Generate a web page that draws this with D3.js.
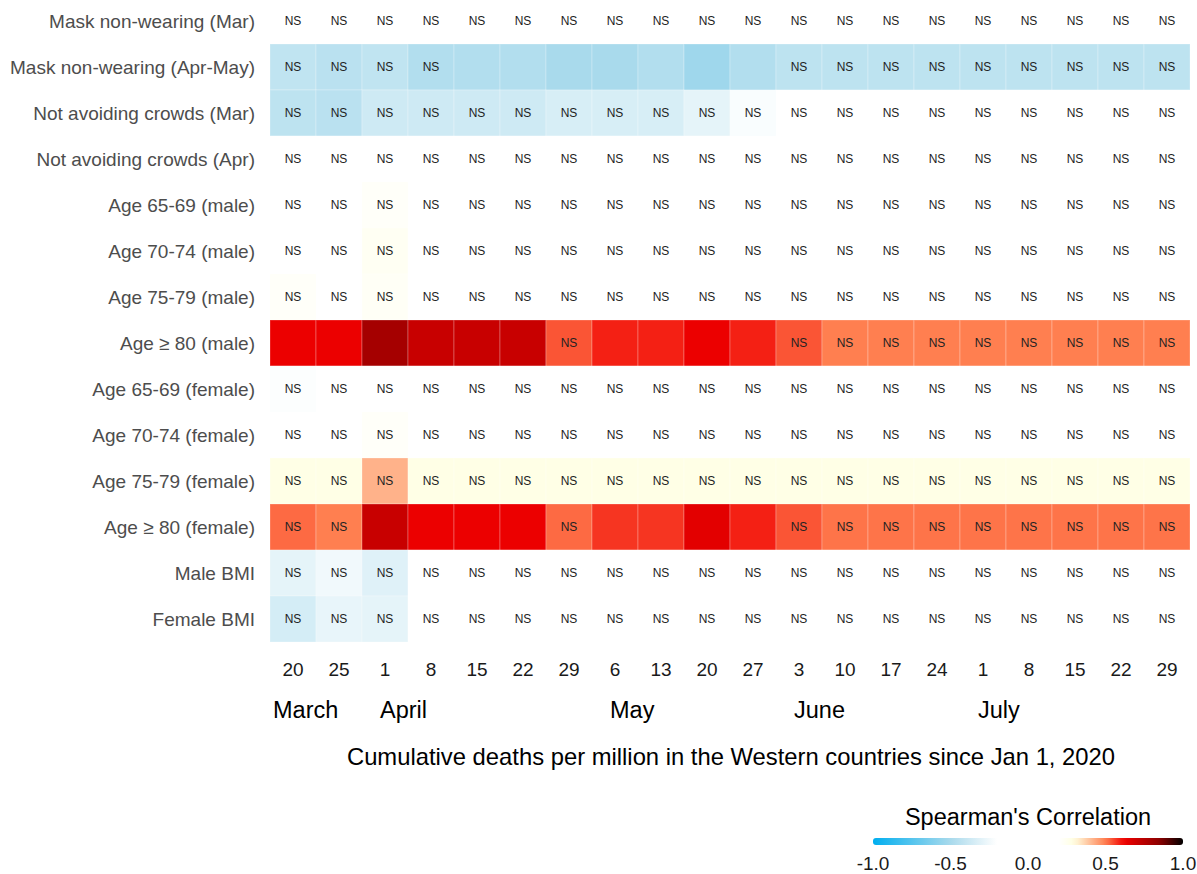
<!DOCTYPE html>
<html>
<head>
<meta charset="utf-8">
<script src="https://cdn.jsdelivr.net/npm/d3@7"></script>
<style>
  body { margin: 0; background: #fff; }
  text { font-family: "Liberation Sans", Arial, sans-serif; }
</style>
</head>
<body>
<svg></svg>
<script>
// строки (показатели)
const rows = [
  "Mask non-wearing (Mar)", "Mask non-wearing (Apr-May)", "Not avoiding crowds (Mar)",
  "Not avoiding crowds (Apr)", "Age 65-69 (male)", "Age 70-74 (male)", "Age 75-79 (male)",
  "Age \u2265 80 (male)", "Age 65-69 (female)", "Age 70-74 (female)", "Age 75-79 (female)",
  "Age \u2265 80 (female)", "Male BMI", "Female BMI"
];
// даты (подписи столбцов)
const dates = ["20", "25", "1", "8", "15", "22", "29", "6", "13", "20", "27",
               "3", "10", "17", "24", "1", "8", "15", "22", "29"];
// месяцы: подпись и номер первого столбца
const months = [["March", 0], ["April", 2], ["May", 7], ["June", 11], ["July", 15]];

// коэффициенты корреляции Спирмена (оценка по картинке)
const corr = [
  [0,0,0,0,0,0,0,0,0,0,0,0,0,0,0,0,0,0,0,0],
  [-0.42,-0.44,-0.42,-0.47,-0.47,-0.47,-0.5,-0.5,-0.47,-0.53,-0.47,-0.43,-0.43,-0.43,-0.43,-0.43,-0.43,-0.43,-0.43,-0.43],
  [-0.43,-0.44,-0.37,-0.37,-0.37,-0.37,-0.34,-0.34,-0.34,-0.29,-0.22,0,0,0,0,0,0,0,0,0],
  [0,0,0,0,0,0,0,0,0,0,0,0,0,0,0,0,0,0,0,0],
  [0,0,0.22,0,0,0,0,0,0,0,0,0,0,0,0,0,0,0,0,0],
  [0,0,0.24,0,0,0,0,0,0,0,0,0,0,0,0,0,0,0,0,0],
  [0.22,0,0.23,0,0,0,0,0,0,0,0,0,0,0,0,0,0,0,0,0],
  [0.63,0.63,0.79,0.71,0.71,0.71,0.54,0.59,0.59,0.63,0.59,0.54,0.5,0.5,0.5,0.5,0.5,0.5,0.5,0.5],
  [-0.21,0,0,0,0,0,0,0,0,0,0,0,0,0,0,0,0,0,0,0],
  [0,0,0.22,0,0,0,0,0,0,0,0,0,0,0,0,0,0,0,0,0],
  [0.28,0.28,0.42,0.28,0.28,0.28,0.28,0.28,0.28,0.28,0.28,0.28,0.28,0.28,0.28,0.28,0.28,0.28,0.28,0.28],
  [0.52,0.5,0.71,0.63,0.63,0.63,0.52,0.57,0.57,0.65,0.59,0.54,0.51,0.51,0.51,0.51,0.51,0.51,0.51,0.51],
  [-0.29,-0.25,-0.31,0,0,0,0,0,0,0,0,0,0,0,0,0,0,0,0,0],
  [-0.35,-0.28,-0.29,0,0,0,0,0,0,0,0,0,0,0,0,0,0,0,0,0]
];
// значимые ячейки (без подписи "NS"): номер строки -> столбцы
const significant = [
  [1, [4,5,6,7,8,9,10]],
  [7, [0,1,2,3,4,5,7,8,9,10]],
  [11, [2,3,4,5,7,8,9,10]]
];
const legendTicks = [-1, -0.5, 0, 0.5, 1];

const W = 1197, H = 874;
const svg = d3.select("svg").attr("width", W).attr("height", H);

const x = d3.scaleBand().domain(d3.range(dates.length)).range([270, 1190]);
const y = d3.scaleBand().domain(d3.range(rows.length)).range([-2, 642]);

const color = d3.scaleLinear()
  .domain([-1, -0.5, -0.2, 0.2, 0.3, 0.5, 0.62, 0.85, 1])
  .range(["#00AEEF", "#A9DAEC", "#ffffff", "#ffffff", "#FFFFE0", "#FF7F50", "#F00000", "#8B0000", "#000000"])
  .clamp(true);

const sigMap = new Map(significant);
const cells = [];
corr.forEach((r, i) => r.forEach((v, j) => cells.push({i, j, v, ns: !(sigMap.get(i) || []).includes(j)})));

// ячейки
svg.append("g").selectAll("rect").data(cells).join("rect")
  .attr("x", d => x(d.j)).attr("y", d => y(d.i))
  .attr("width", x.bandwidth()).attr("height", y.bandwidth())
  .attr("fill", d => color(d.v))
  .attr("stroke", "#ffffff").attr("stroke-opacity", 0.25).attr("stroke-width", 1);

// подписи NS
svg.append("g").selectAll("text").data(cells.filter(d => d.ns)).join("text")
  .attr("x", d => x(d.j) + x.bandwidth() / 2)
  .attr("y", d => y(d.i) + y.bandwidth() / 2 + 4)
  .attr("text-anchor", "middle").attr("font-size", 12).attr("fill", "#222")
  .text("NS");

// подписи строк
svg.append("g").selectAll("text").data(rows).join("text")
  .attr("x", 255).attr("y", (d, i) => y(i) + y.bandwidth() / 2 + 6.5)
  .attr("text-anchor", "end").attr("font-size", 19).attr("fill", "#4d4d4d")
  .text(d => d);

// подписи дат
svg.append("g").selectAll("text").data(dates).join("text")
  .attr("x", (d, i) => x(i) + x.bandwidth() / 2).attr("y", 676)
  .attr("text-anchor", "middle").attr("font-size", 19).attr("fill", "#1a1a1a")
  .text(d => d);

// месяцы
svg.append("g").selectAll("text").data(months).join("text")
  .attr("x", d => d[1] === 0 ? x(d[1]) + 3 : x(d[1]) + x.bandwidth() / 2 - 5)
  .attr("y", 718)
  .attr("font-size", 23.5).attr("fill", "#000")
  .text(d => d[0]);

svg.append("text")
  .attr("x", 731).attr("y", 765).attr("text-anchor", "middle")
  .attr("font-size", 23.8).attr("fill", "#000")
  .text("Cumulative deaths per million in the Western countries since Jan 1, 2020");

// легенда
const lx = d3.scaleLinear().domain([-1, 1]).range([873, 1183]);
const grad = svg.append("defs").append("linearGradient").attr("id", "lg");
d3.range(0, 1.0001, 0.02).forEach(t => {
  grad.append("stop").attr("offset", t).attr("stop-color", color(-1 + 2 * t));
});
svg.append("rect").attr("x", lx(-1)).attr("y", 838).attr("width", lx(1) - lx(-1)).attr("height", 7)
  .attr("rx", 3).attr("fill", "url(#lg)");
svg.append("text").attr("x", 1028).attr("y", 825).attr("text-anchor", "middle")
  .attr("font-size", 23.5).attr("fill", "#000").text("Spearman's Correlation");
svg.append("g").selectAll("text").data(legendTicks).join("text")
  .attr("x", d => lx(d)).attr("y", 870).attr("text-anchor", "middle")
  .attr("font-size", 19).attr("fill", "#1a1a1a")
  .text(d => d3.format(".1f")(d).replace("\u2212", "-"));
</script>
</body>
</html>
